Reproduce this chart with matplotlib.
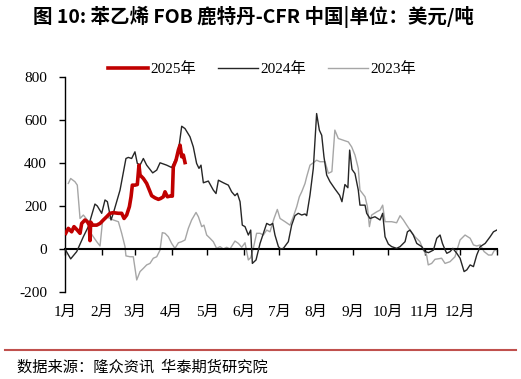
import matplotlib
matplotlib.use("Agg")
import matplotlib.pyplot as plt

plt.rcParams['font.family'] = ['Liberation Serif', 'Noto Sans CJK SC']
plt.rcParams['axes.unicode_minus'] = False

# ---- data (x = day of year, y = USD/t) ----
days_2025 = [0.6, 2.8, 5.6, 7.6, 10.4, 12.7, 14.1, 16.9, 18.9, 20.6, 21.1, 21.7, 23.4, 26.8,
             29.6, 32.4, 35.2, 38.0, 40.8, 45.1, 47.9, 49.9, 52.1, 54.4, 55.8, 56.9, 59.1,
             61.1, 62.5, 63.4, 66.2, 69.0, 71.3, 73.2, 76.0, 78.9, 80.8, 83.1, 84.5, 86.5,
             88.7, 90.7, 91.5, 93.8, 95.8, 97.2, 98.6, 100.0, 101.4]
vals_2025 = [73, 96, 80, 104, 88, 73, 119, 135, 127, 110, 39, 125, 111, 111,
             119, 135, 150, 166, 169, 166, 166, 142, 158, 197, 243, 297, 297,
             300, 390, 344, 328, 305, 274, 248, 238, 231, 235, 243, 266, 243,
             246, 246, 382, 413, 460, 483, 429, 437, 402]

days_2024 = [0, 4.8, 9.9, 15.5, 19.7, 25.3, 27.3, 31.0, 33.8, 35.8, 38.9, 40.8, 46.5, 51.5,
             53.5, 56.3, 59.1, 61.1, 63.4, 66.2, 69.0, 74.1, 77.5, 80.3, 85.9, 90.1, 94.4,
             96.6, 98.6, 101.4, 105.6, 108.4, 111.2, 113.2, 114.9, 116.9, 121.1, 125.3,
             127.6, 129.6, 133.8, 138.0, 140.8, 143.6, 145.6, 147.9, 149.8, 152.1, 154.9,
             156.9, 158.3, 161.4, 164.8, 170.4, 173.2, 175.5, 177.4, 180.3, 182.2, 184.5,
             188.7, 191.5, 194.3, 197.1, 200.0, 202.8, 204.2, 207.0, 209.8, 212.6, 214.9,
             216.9, 218.8, 221.1, 223.9, 228.0, 232.0, 234.0, 236.5, 239.0, 240.5, 242.5,
             245.0, 247.8, 249.2, 253.5, 254.9, 257.7, 261.9, 266.2, 268.4, 270.4, 273.2,
             276.0, 280.2, 283.1, 287.3, 289.3, 291.5, 294.3, 297.2, 301.4, 304.2, 307.1,
             311.3, 314.1, 316.9, 318.9, 321.2, 322.6, 325.4, 327.7, 331.0, 333.8, 337.2,
             339.5, 342.3, 345.1, 347.9, 350.8, 355.0, 359.2, 362.0, 364.8]
vals_2024 = [0, -46, -12, 57, 104, 209, 200, 166, 228, 220, 135, 166, 274, 421,
             426, 421, 452, 398, 390, 421, 390, 354, 367, 401, 390, 379, 429,
             488, 571, 560, 522, 475, 398, 375, 390, 308, 316, 274,
             258, 320, 308, 297, 266, 248, 259, 220, 111, 104, 65,
             88, -67, -51, 26, 119, 111, 119, 65, 11, 0, 3,
             34, 111, 155, 166, 158, 163, 155, 251, 375, 630, 553,
             529, 429, 344, 313, 280, 250, 220, 300, 285, 460, 370,
             351, 274, 204, 204, 166, 142, 150, 135, 166, 57, 23,
             11, 3, 11, 34, 80, 88, 65, 26, 11, -12, -17,
             -5, 50, 65, 26, -5, -20, -12, 3, -20, -43, -105,
             -97, -74, -82, -28, 11, 26, 57, 80, 88]

days_2023 = [2.8, 4.8, 8.4, 10.4, 12.7, 15.5, 18.9, 21.1, 23.9, 26.8, 29.6, 31.8, 35.2, 38.0,
             40.8, 45.1, 47.9, 50.7, 51.5, 54.9, 57.7, 60.6, 63.4, 66.2, 69.0, 71.8, 74.6,
             77.5, 80.3, 82.2, 84.5, 87.3, 90.1, 92.9, 95.8, 98.6, 101.4, 104.2, 107.0,
             110.7, 112.7, 115.5, 117.4, 119.7, 122.5, 125.3, 128.1, 131.0, 133.8, 136.6,
             139.4, 143.6, 146.5, 149.3, 152.1, 154.9, 156.9, 159.1, 161.9, 164.8, 167.6,
             170.4, 173.2, 176.6, 179.4, 181.7, 185.9, 190.1, 192.9, 195.8, 198.0, 200.0,
             202.8, 204.2, 207.0, 209.8, 212.6, 215.4, 219.7, 222.5, 225.5, 228.0, 230.9,
             235.1, 239.4, 242.2, 245.0, 247.8, 249.2, 253.5, 255.5, 257.2, 259.1, 263.4,
             266.2, 268.4, 270.4, 276.0, 280.2, 283.1, 285.9, 288.7, 291.5, 295.7, 299.9,
             302.7, 305.5, 306.9, 309.8, 312.6, 318.2, 321.1, 325.3, 329.5, 333.8, 338.0,
             342.3, 345.1, 347.9, 350.8, 354.1, 357.8, 360.6, 363.4, 365.0]
vals_2023 = [305, 328, 313, 297, 142, 158, 135, 80, 57, 34, 14, 135, 150, 142,
             135, 127, 73, 11, -32, -36, -36, -144, -105, -90, -74, -67, -43,
             -36, -5, 76, 73, 57, 26, 3, 29, 34, 42, 96, 135,
             170, 150, 104, 111, 65, 50, 34, 3, 11, 0, 8,
             0, 37, 26, 8, 29, -51, -40, 3, 73, 73, 65,
             88, 80, 142, 184, 142, 127, 111, 150, 197, 243, 266,
             305, 336, 390, 401, 413, 406, 406, 352, 360, 553, 514,
             506, 498, 475, 437, 375, 274, 243, 197, 104, 158, 173,
             181, 204, 127, 127, 122, 155, 135, 111, 88, 57, 34,
             -5, -28, -74, -67, -48, -43, -67, -59, -36, 42, 65,
             50, 19, 14, 19, -12, -28, -28, 0, -12]

month_starts = [0, 31, 59, 90, 120, 151, 181, 212, 243, 273, 304, 334, 365]
month_labels = ['1月', '2月', '3月', '4月', '5月', '6月', '7月', '8月', '9月',
                '10月', '11月', '12月', '']
y_ticks = [-200, 0, 200, 400, 600, 800]

W, H = 521, 379
fig = plt.figure(figsize=(W / 100, H / 100), dpi=100)
ax = fig.add_axes([65 / W, 1 - 292 / H, (497 - 65) / W, (292 - 77) / H])

ax.plot(days_2023, vals_2023, color='#A6A6A6', lw=1.0, label='2023年', zorder=2)
ax.plot(days_2024, vals_2024, color='#262626', lw=1.0, label='2024年', zorder=3)
ax.plot(days_2025, vals_2025, color='#C00000', lw=2.6, label='2025年', zorder=4)

ax.set_xlim(0, 365)
ax.set_ylim(-200, 800)
ax.set_yticks(y_ticks)
ax.set_yticklabels([str(v) for v in y_ticks])
ax.set_xticks(month_starts)
ax.set_xticklabels(month_labels)

for s in ['top', 'right']:
    ax.spines[s].set_visible(False)
ax.spines['bottom'].set_position(('data', 0))
ax.spines['bottom'].set_linewidth(1.5)
ax.spines['left'].set_linewidth(1.0)
ax.tick_params(axis='y', direction='out', length=4, width=1, pad=9, labelsize=11)
ax.tick_params(axis='x', direction='out', length=4, width=1, pad=37, labelsize=11)

handles, labels = ax.get_legend_handles_labels()
order = [2, 1, 0]
leg = ax.legend([handles[i] for i in order], [labels[i] for i in order],
                ncol=3, frameon=False, loc='center left',
                bbox_to_anchor=(108 / W, 1 - 69 / H), bbox_transform=fig.transFigure,
                borderpad=0, borderaxespad=0, handlelength=2.6, handletextpad=0.2,
                columnspacing=1.4, fontsize=11)

fig.text(33 / W, 1 - 17 / H, '图 10: 苯乙烯 FOB 鹿特丹-CFR 中国|单位：美元/吨',
         family=['Noto Sans CJK SC', 'DejaVu Sans'], fontweight='bold', fontsize=14,
         va='center', ha='left')

fig.add_artist(plt.Line2D([5 / W, 516 / W], [1 - 350 / H, 1 - 350 / H],
                          transform=fig.transFigure, color='#C0504D', lw=1.5))
fig.text(17 / W, 1 - 367 / H, '数据来源：隆众资讯  华泰期货研究院',
         family=['Noto Sans CJK SC', 'DejaVu Sans'], fontsize=11, va='center', ha='left')

fig.savefig('out.png', dpi=100)
